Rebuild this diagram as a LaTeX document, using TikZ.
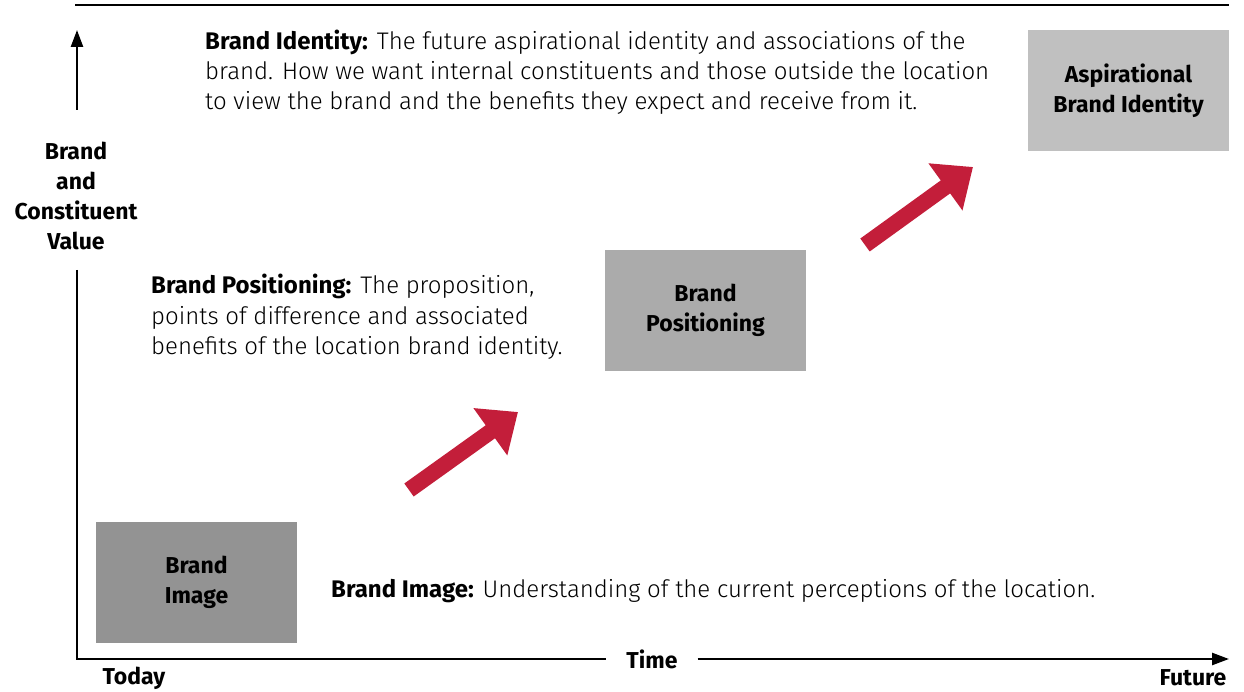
\documentclass[tikz,border=0pt]{standalone}
\usepackage{fontspec}
\setmainfont{Fira Sans}[UprightFont=* Light, BoldFont=* Bold]
\usetikzlibrary{arrows.meta}
\definecolor{imgbox}{HTML}{939393}
\definecolor{posbox}{HTML}{ABABAB}
\definecolor{idbox}{HTML}{C0C0C0}
\definecolor{brandred}{HTML}{C31E3A}
\tikzset{
	stagebox/.style={minimum width=201pt, minimum height=121pt, align=center, inner sep=0pt, font=\fontsize{23}{30}\selectfont\bfseries},
	axislab/.style={align=center, inner sep=1pt, font=\fontsize{23}{30}\selectfont\bfseries},
	note/.style={anchor=base west, align=left, inner sep=0pt, font=\fontsize{24}{30}\selectfont},
	axisline/.style={line width=2.5pt},
	growth/.style={brandred, line width=16pt, -{Triangle[width=56pt,length=34pt]}}
}
\begin{document}
\begin{tikzpicture}[x=1pt,y=-1pt]
	\useasboundingbox (0,0) rectangle (1244,692);
	% axes
	\coordinate (O) at (77,659);
	\coordinate (ytop) at (77,30);
	\coordinate (xend) at (1229,659);
	\draw[axisline] (75,5) -- (1229,5);
	\node[axislab] (yval) at (76,196) {Brand\\and\\Constituent\\Value};
	\node[axislab, inner xsep=20pt] (time) at (652,659) {Time};
	\node[axislab] (today) at (134,678) {Today};
	\node[axislab] (future) at (1193,678) {Future};
	\draw[axisline,-{Triangle[width=12pt,length=17pt]}] (77,110) -- (ytop);
	\draw[axisline] (77,270) -- (O) -- (time.west);
	\draw[axisline,-{Triangle[width=12pt,length=17pt]}] (time.east) -- (xend);
	% stages
	\node[stagebox, fill=imgbox] (image) at (196.5,582.5) {Brand\\Image};
	\node[stagebox, fill=posbox] (positioning) at (705.5,310.5) {Brand\\Positioning};
	\node[stagebox, fill=idbox] (identity) at (1128.5,91) {Aspirational\\Brand Identity};
	\draw[growth] (409,490) -- (518,412);
	\draw[growth] (865,245) -- (973,167);
	% notes
	\node[note] (idnote) at (205,110) {\textbf{Brand Identity:} The future aspirational identity and associations of the\\brand. How we want internal constituents and those outside the location\\to view the brand and the benefits they expect and receive from it.};
	\node[note] (posnote) at (151,354) {\textbf{Brand Positioning:} The proposition,\\points of difference and associated\\benefits of the location brand identity.};
	\node[note] (imgnote) at (331,597) {\textbf{Brand Image:} Understanding of the current perceptions of the location.};
\end{tikzpicture}
\end{document}
